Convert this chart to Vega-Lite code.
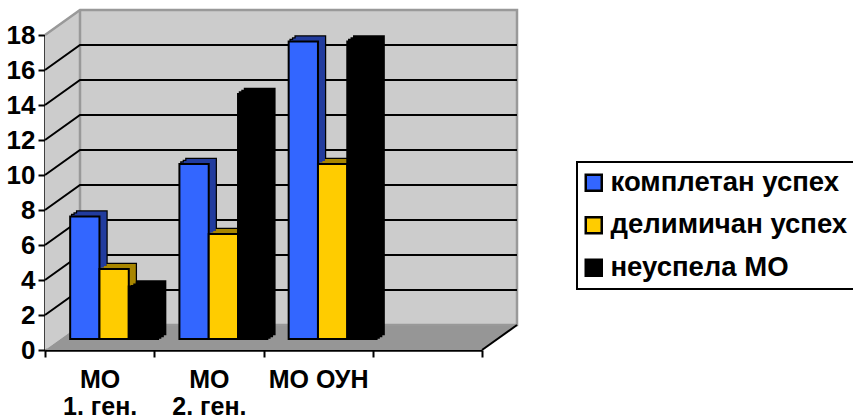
{"$schema":"https://vega.github.io/schema/vega-lite/v6.json","width":437,"height":315,"autosize":{"type":"none"},"padding":{"left":45,"top":35,"right":371,"bottom":70},"background":"white","config":{"view":{"stroke":null},"font":"Liberation Sans","legend":{"strokeColor":"black","strokeWidth":2},"axisY":{"grid":false,"title":null,"labelFont":"Liberation Sans","labelFontWeight":"bold","labelFontSize":26,"labelColor":"black","labelPadding":3,"tickColor":"black","tickWidth":2,"tickSize":7,"domainColor":"black","domainWidth":2.5,"tickCount":9}},
"datasets":{"bars":[{"group":"МО 1. ген.","series":"комплетан успех","value":7},{"group":"МО 1. ген.","series":"делимичан успех","value":4},{"group":"МО 1. ген.","series":"неуспела МО","value":3},{"group":"МО 2. ген.","series":"комплетан успех","value":10},{"group":"МО 2. ген.","series":"делимичан успех","value":6},{"group":"МО 2. ген.","series":"неуспела МО","value":14},{"group":"МО ОУН","series":"комплетан успех","value":17},{"group":"МО ОУН","series":"делимичан успех","value":10},{"group":"МО ОУН","series":"неуспела МО","value":17}],
"grid":[{"t":2,"x":0,"y":2},{"t":2,"x":35,"y":3.43},{"t":2,"x":472,"y":3.43},{"t":4,"x":0,"y":4},{"t":4,"x":35,"y":5.43},{"t":4,"x":472,"y":5.43},{"t":6,"x":0,"y":6},{"t":6,"x":35,"y":7.43},{"t":6,"x":472,"y":7.43},{"t":8,"x":0,"y":8},{"t":8,"x":35,"y":9.43},{"t":8,"x":472,"y":9.43},{"t":10,"x":0,"y":10},{"t":10,"x":35,"y":11.43},{"t":10,"x":472,"y":11.43},{"t":12,"x":0,"y":12},{"t":12,"x":35,"y":13.43},{"t":12,"x":472,"y":13.43},{"t":14,"x":0,"y":14},{"t":14,"x":35,"y":15.43},{"t":14,"x":472,"y":15.43},{"t":16,"x":0,"y":16},{"t":16,"x":35,"y":17.43},{"t":16,"x":472,"y":17.43}],
"edges":[{"e":"a","x":0,"y":18},{"e":"a","x":35,"y":19.43},{"e":"a","x":472,"y":19.43},{"e":"a","x":472,"y":1.43},{"e":"a","x":35,"y":1.43},{"e":"b","x":35,"y":19.43},{"e":"b","x":35,"y":1.43}]},
"resolve":{"scale":{"x":"independent"}},
"layer":[
{"data":{"values":[{"x":0,"y":0,"y2":18},{"x":35,"y":1.43,"y2":19.43}]},"mark":{"type":"area","color":"#CCCCCC"},"encoding":{"x":{"field":"x","type":"quantitative","axis":null,"scale":{"domain":[0,437],"nice":false,"zero":false}},"y":{"field":"y","type":"quantitative","scale":{"domain":[0,18],"nice":false}},"y2":{"field":"y2"}}},
{"data":{"values":[{"x":35,"y":1.43,"y2":19.43},{"x":472,"y":1.43,"y2":19.43}]},"mark":{"type":"area","color":"#CCCCCC"},"encoding":{"x":{"field":"x","type":"quantitative","axis":null,"scale":{"domain":[0,437],"nice":false,"zero":false}},"y":{"field":"y","type":"quantitative"},"y2":{"field":"y2"}}},
{"data":{"values":[{"x":0,"y":0,"y2":0},{"x":35,"y":0,"y2":1.43},{"x":437,"y":0,"y2":1.43},{"x":472,"y":1.43,"y2":1.43}]},"mark":{"type":"area","color":"#969696"},"encoding":{"x":{"field":"x","type":"quantitative","axis":null,"scale":{"domain":[0,437],"nice":false,"zero":false}},"y":{"field":"y","type":"quantitative"},"y2":{"field":"y2"}}},
{"data":{"name":"edges"},"mark":{"type":"line","color":"#999999","strokeWidth":2.5},"encoding":{"detail":{"field":"e"},"order":{"field":"idx"},"x":{"field":"x","type":"quantitative","axis":null,"scale":{"domain":[0,437],"nice":false,"zero":false}},"y":{"field":"y","type":"quantitative"}}},
{"data":{"name":"grid"},"mark":{"type":"line","color":"black","strokeWidth":2},"encoding":{"detail":{"field":"t"},"order":{"field":"x"},"x":{"field":"x","type":"quantitative","axis":null,"scale":{"domain":[0,437],"nice":false,"zero":false}},"y":{"field":"y","type":"quantitative"}}},
{"data":{"values":[{"x":437,"y":0},{"x":472,"y":1.43}]},"mark":{"type":"line","color":"black","strokeWidth":2},"encoding":{"x":{"field":"x","type":"quantitative","axis":null,"scale":{"domain":[0,437],"nice":false,"zero":false}},"y":{"field":"y","type":"quantitative"}}},
{"data":{"name":"bars"},
"resolve":{"scale":{"xOffset":"independent"}},
"encoding":{
"x":{"field":"group","type":"nominal","sort":null,"scale":{"domain":["МО 1. ген.","МО 2. ген.","МО ОУН"," "],"paddingInner":0,"paddingOuter":0},"title":null,"axis":{"labelAngle":0,"tickBand":"extent","labelFont":"Liberation Sans","labelFontWeight":"bold","labelFontSize":25,"labelColor":"black","labelPadding":10,"labelLineHeight":27,"labelBaseline":"top","tickColor":"black","tickWidth":2,"tickSize":7,"domainColor":"black","domainWidth":2.5,"labelExpr":"length(datum.label)>6 ? [slice(datum.label,0,2), slice(datum.label,3)] : datum.label"}},
"y":{"field":"value","type":"quantitative","title":null}},
"layer":[
{"mark":{"type":"bar","color":"black","stroke":"black","strokeWidth":2.5,"yOffset":-16,"y2Offset":-16},"encoding":{"xOffset":{"field":"series","type":"nominal","sort":null,"scale":{"domain":["комплетан успех","делимичан успех","неуспела МО"],"paddingInner":0,"paddingOuter":0.364,"range":[21.5,130.75]}}}},
{"mark":{"type":"bar","color":"black","stroke":"black","strokeWidth":2.5,"yOffset":-14,"y2Offset":-14},"encoding":{"xOffset":{"field":"series","type":"nominal","sort":null,"scale":{"domain":["комплетан успех","делимичан успех","неуспела МО"],"paddingInner":0,"paddingOuter":0.364,"range":[19,128.25]}}}},
{"mark":{"type":"bar","color":"black","stroke":"black","strokeWidth":2.5,"yOffset":-12.5,"y2Offset":-12.5},"encoding":{"xOffset":{"field":"series","type":"nominal","sort":null,"scale":{"domain":["комплетан успех","делимичан успех","неуспела МО"],"paddingInner":0,"paddingOuter":0.364,"range":[16.5,125.75]}}}},
{"mark":{"type":"bar","strokeWidth":0,"yOffset":-16,"y2Offset":-16},"encoding":{"color":{"condition":[{"test":"datum.series==='комплетан успех'","value":"#223C9E"},{"test":"datum.series==='делимичан успех'","value":"#A88600"}],"value":"#000000"},"xOffset":{"field":"series","type":"nominal","sort":null,"scale":{"domain":["комплетан успех","делимичан успех","неуспела МО"],"paddingInner":0,"paddingOuter":0.364,"range":[21.5,130.75]}}}},
{"mark":{"type":"bar","strokeWidth":0,"yOffset":-14,"y2Offset":-14},"encoding":{"color":{"condition":[{"test":"datum.series==='комплетан успех'","value":"#223C9E"},{"test":"datum.series==='делимичан успех'","value":"#A88600"}],"value":"#000000"},"xOffset":{"field":"series","type":"nominal","sort":null,"scale":{"domain":["комплетан успех","делимичан успех","неуспела МО"],"paddingInner":0,"paddingOuter":0.364,"range":[19,128.25]}}}},
{"mark":{"type":"bar","strokeWidth":0,"yOffset":-12.5,"y2Offset":-12.5},"encoding":{"color":{"condition":[{"test":"datum.series==='комплетан успех'","value":"#223C9E"},{"test":"datum.series==='делимичан успех'","value":"#A88600"}],"value":"#000000"},"xOffset":{"field":"series","type":"nominal","sort":null,"scale":{"domain":["комплетан успех","делимичан успех","неуспела МО"],"paddingInner":0,"paddingOuter":0.364,"range":[16.5,125.75]}}}},
{"mark":{"type":"bar","stroke":"black","strokeWidth":2,"yOffset":-11,"y2Offset":-11},"encoding":{"xOffset":{"field":"series","type":"nominal","sort":null,"scale":{"domain":["комплетан успех","делимичан успех","неуспела МО"],"paddingInner":0,"paddingOuter":0.364,"range":[14.5,123.75]}},"color":{"field":"series","type":"nominal","title":null,"scale":{"domain":["комплетан успех","делимичан успех","неуспела МО"],"range":["#3366FF","#FFCC00","#000000"]},"legend":{"orient":"none","legendX":532,"legendY":127,"padding":7,"symbolType":"square","symbolSize":256,"symbolOffset":-4,"symbolStrokeColor":"black","symbolStrokeWidth":2.5,"symbolOpacity":1,"labelFont":"Liberation Sans","labelFontWeight":"bold","labelFontSize":27.5,"labelColor":"black","labelLimit":400,"rowPadding":13.5,"labelOffset":3}}}}
]}
]}
